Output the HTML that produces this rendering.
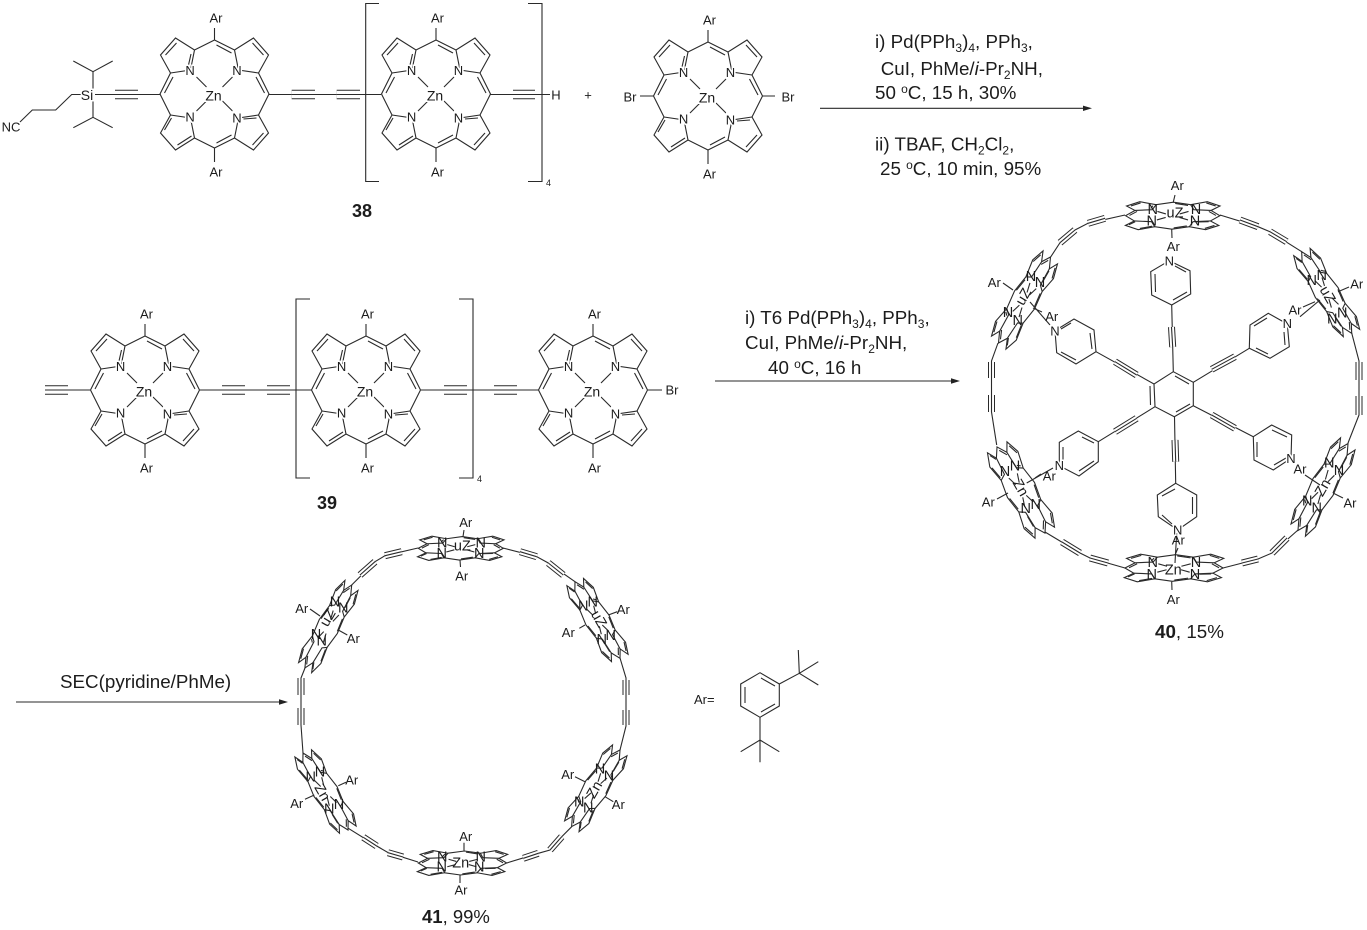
<!DOCTYPE html>
<html><head><meta charset="utf-8"><style>
html,body{margin:0;padding:0;background:#fff}
svg{display:block;fill:none;stroke:#2a2a2a;stroke-width:1.1;font-family:"Liberation Sans",sans-serif}
path{vector-effect:non-scaling-stroke}
text{fill:#1c1c1c;stroke:none}
.n{font-size:13px;text-anchor:middle;dominant-baseline:central}
.z{font-size:14.5px;text-anchor:middle;dominant-baseline:central}
.h{paint-order:stroke;stroke:#fff;stroke-width:3px}
.t{font-size:18.8px}
.b{font-weight:bold}
.s{font-size:12px}
</style></head><body>
<svg width="1367" height="930" viewBox="0 0 1367 930" xmlns="http://www.w3.org/2000/svg">
<defs>
<g id="P">
<path d="M-54.5 0L-44-21L-54-39L-39-56L-20-44L0-54L20-44L39-56L54-39L44-21L54.5 0L44 21L54 39L39 56L20 44L0 54L-20 44L-39 56L-54 39L-44 21Z"/>
<path d="M-44-21L-24-24L-20-44M44-21L24-24L20-44M-44 21L-24 24L-20 44M44 21L24 24L20 44"/>
<path d="M-23.5-40L-26-29M-41.5-17L-50-1M-49-39L-38-51M2-49L17-41M49-39L38-51M41.5-17L50-1M29 25L42 24M49 39L38 51M2 49L17 41M-43 24L-50 36M-37 51L-23 42"/>
<path d="M-18-17L-8-7M18-17L8-7M-18 17L-8 7M18 17L8 7"/>
</g>
<g id="L">
<use href="#P"/>
<path d="M0-54V-66M0 54V68"/>
<text class="n h" x="-24.5" y="-23.5">N</text><text class="n h" x="22.5" y="-23.5">N</text>
<text class="n h" x="-24.5" y="23">N</text><text class="n h" x="22.5" y="24">N</text>
<text class="n h" x="-1" y="1.5" style="font-size:14px">Zn</text>
<text class="n" x="1.5" y="-76">Ar</text><text class="n" x="1.5" y="78">Ar</text>
</g>
<g id="tL"><path d="M115 94.5H138M291.7 94.5H315M336.7 94.5H360M513 94.5H535M45 390H68M222 390H245M267 390H290M444 390H467M494 390H517"/></g>
<g id="tS"><path d="M1105 218.3L1088 223.3M1075 230L1060 242.7M1240 220L1258 226.7M1270 231.7L1286.7 241.7M1108 563L1090 558M1080 553L1062 542M1242 563L1258 559M1272 553L1287 538M991.5 362V378M991.5 395V412M1359 362V380M1359 396V415M1172.7 347L1171.5 327M1211.7 369.3L1235 356.7M1115 361.7L1136.7 375M1115 431.7L1136.7 418.3M1211.7 415L1235 428.3M1175 440L1175.7 461.7M401.7 551.7L385 555.7M375 561.7L360 575M520 551.7L536.7 556.7M548.3 563L563.3 575M301 678V695M301 708V725M626 680V695M626 710V725M403 857L388 852.7M376.7 846L363.3 837.3M561.7 836.7L550 850M538.3 853.3L523.3 858.3"/></g>
</defs>

<!-- large porphyrins -->
<path d="M95 94.5H160M269 94.5H381M490.5 94.5H550M45 390H90M200 390H312M421 390H539M648 390H662M653.5 96H640M762.5 96H775"/>
<use href="#tL" style="stroke:#2a2a2a;stroke-width:9.6"/><use href="#tL" style="stroke:#fff;stroke-width:7.6"/><use href="#tL" style="stroke:#2a2a2a;stroke-width:1.1"/>
<use href="#L" transform="translate(214.5 94)"/>
<use href="#L" transform="translate(436 94)"/>
<use href="#L" transform="translate(708 96)"/>
<use href="#L" transform="translate(145 390)"/>
<use href="#L" transform="translate(366 390)"/>
<use href="#L" transform="translate(593 390)"/>

<!-- 38 side chain -->
<path d="M81 94.5H71.7L55.7 110H32.3L20 122M93 89V71.7L73.3 61M93 71.7L112.7 61M93 101V117.3L73.3 127.7M93 117.3L112.7 127.7"/>
<text class="n h" x="87" y="95" style="font-size:14px">Si</text><text class="n" x="11" y="127">NC</text>
<text class="n h" x="556" y="95">H</text>
<text class="n" x="588" y="95">+</text>
<text class="n" x="630" y="97">Br</text><text class="n" x="788" y="97">Br</text>
<text class="n h" x="672" y="390">Br</text>

<!-- brackets -->
<path d="M379 3.5H365.7V181.5H379M528 3.5H542V181.5H528M310 299H296V478H310M459 299H473V478H459"/>
<text x="546" y="186" style="font-size:9px">4</text><text x="477" y="482" style="font-size:9px">4</text>

<!-- arrows -->
<path d="M820 108.3H1084M715 381H952M16 702H280"/>
<path d="M1092 108.3L1083 105.6V111Z M960 381L951 378.3V383.7Z M288 702L279 699.3V704.7Z" style="fill:#222;stroke:none"/>

<!-- reaction text -->
<text class="t" x="875" y="48">i) Pd(PPh<tspan class="s" dy="4">3</tspan><tspan dy="-4">)</tspan><tspan class="s" dy="4">4</tspan><tspan dy="-4">, PPh</tspan><tspan class="s" dy="4">3</tspan><tspan dy="-4">,</tspan></text>
<text class="t" x="880.7" y="75">CuI, PhMe/<tspan font-style="italic">i</tspan>-Pr<tspan class="s" dy="4">2</tspan><tspan dy="-4">NH,</tspan></text>
<text class="t" x="875" y="99">50 <tspan class="s" dy="-6">o</tspan><tspan dy="6">C, 15 h, 30%</tspan></text>
<text class="t" x="875" y="150.5">ii) TBAF, CH<tspan class="s" dy="4">2</tspan><tspan dy="-4">Cl</tspan><tspan class="s" dy="4">2</tspan><tspan dy="-4">,</tspan></text>
<text class="t" x="880" y="175">25 <tspan class="s" dy="-6">o</tspan><tspan dy="6">C, 10 min, 95%</tspan></text>
<text class="t" x="745" y="324">i) T6 Pd(PPh<tspan class="s" dy="4">3</tspan><tspan dy="-4">)</tspan><tspan class="s" dy="4">4</tspan><tspan dy="-4">, PPh</tspan><tspan class="s" dy="4">3</tspan><tspan dy="-4">,</tspan></text>
<text class="t" x="745" y="349">CuI, PhMe/<tspan font-style="italic">i</tspan>-Pr<tspan class="s" dy="4">2</tspan><tspan dy="-4">NH,</tspan></text>
<text class="t" x="768" y="374">40 <tspan class="s" dy="-6">o</tspan><tspan dy="6">C, 16 h</tspan></text>
<text class="t" x="60" y="688">SEC(pyridine/PhMe)</text>
<text class="t b" x="352" y="217" style="font-size:18px">38</text>
<text class="t b" x="317" y="509" style="font-size:18px">39</text>
<text class="t" x="1155" y="638"><tspan class="b">40</tspan>, 15%</text>
<text class="t" x="422" y="923" style="font-size:18.5px"><tspan class="b">41</tspan>, 99%</text>

<!-- ring 40 connections -->
<path d="M1125 215L1088 223.3L1075 230L1060 242.7L1050 258M1220 215L1258 226.7L1270 231.7L1301.7 251.7M1125 568L1090 558L1080 553L1045 532M1223 568L1258 559L1272 553L1298 530M998 343L991.5 361V412L996.7 445M1351.7 333L1359 361V415L1348 443"/>
<path d="M1173.3 371.7L1171.7 305M1193.3 382.3L1249.3 348.3M1154 384L1096 351.7M1155 406.7L1098.3 441.7M1193.3 405.7L1253.3 436.7M1174.5 416.7L1175.7 483.3"/>
<!-- ring 41 connections -->
<path d="M418 548L385 555.7L375 561.7L351.7 585M503 548L536.7 556.7L548.3 563L575 581.7M305 668L301 678V725L303 753M620 658L626 678V726L620 750M348.3 828.3L376.7 846L388.3 852.7L418 862M506.7 863L538.3 853.3L550 850L561.7 836.7L571.7 826.7"/>
<use href="#tS" style="stroke:#2a2a2a;stroke-width:7"/><use href="#tS" style="stroke:#fff;stroke-width:5"/><use href="#tS" style="stroke:#2a2a2a;stroke-width:1.1"/>

<!-- benzene -->
<path d="M1173.3 371.7L1193.3 382.3V405.7L1174.3 416.7L1155 406.7L1154 384ZM1175 376L1189 384M1150 386L1150.5 405M1176 412L1190 404"/>

<!-- pyridines -->
<path d="M1171.7 305L1190.7 294L1190 270.7L1169.3 260.7L1150.7 271.7L1151.7 295ZM1173 300L1187 292M1186 272L1175 266M1155 274L1155.5 292"/>
<path d="M1249.3 348.3L1270 358.3L1289.3 346.7L1287.3 324L1268.3 313.3L1250 325ZM1256 348L1268 354M1285 345L1284 332M1267 318L1254 326"/>
<path d="M1096 351.7L1094 330L1074 319L1055 330.7L1056.7 352.7L1076 364ZM1092 349L1090 333M1071 323L1061 329M1061 352L1076 360"/>
<path d="M1098.3 441.7V461.7L1079 476L1059.3 465.7V442.3L1078.3 431ZM1082 437L1094 443M1094 461L1079 471M1063 447V460"/>
<path d="M1253.3 436.7L1271.7 425L1291.7 435L1291 458.3L1273.3 470L1254 460ZM1272 430L1287 437M1286 458L1274 465M1257 442V457"/>
<path d="M1175.7 483.3L1196.7 495V516.7L1177.7 530L1158.3 516.7L1157.3 495ZM1192.5 497V514M1172 524L1162 515M1162 496L1175 489"/>

<!-- ring 40 porphyrins -->
<use href="#P" transform="matrix(.865 0 -.015 .25 1172.7 215.7)"/>
<use href="#P" transform="matrix(.477 -.789 .185 .167 1024.5 300)"/>
<use href="#P" transform="matrix(.459 .749 -.21 .093 1326.7 292.5)"/>
<use href="#P" transform="matrix(.44 .79 -.25 .14 1021 490)"/>
<use href="#P" transform="matrix(.459 -.798 .185 .157 1323 487)"/>
<use href="#P" transform="matrix(.9 0 -.03 .247 1174 568)"/>
<!-- ring 40 bonds to Ar / N -->
<path d="M1173.3 202L1175 195M1171.7 229L1172 238M1013 290L1003 283M1033 308L1042 312M1338 291.7L1349 287M1315 301.7L1303 307M1008 493L997 499M1035 478L1041 474M1333 493L1343 498M1171.7 581.7L1172 590M1175 555L1178 548M1050 325L1030 302M1300 316.7L1320 300M1053 468L1026.7 483M1305 475L1320 485M1176.7 533L1175 563"/>
<!-- ring 40 labels -->
<text class="z" x="1152.7" y="210">N</text><text class="z" x="1196" y="210">N</text><text class="z" x="1151.7" y="221.7">N</text><text class="z" x="1195" y="221.7">N</text><text class="z" x="1175" y="213.3">uZ</text>
<text class="n" x="1177.3" y="185.7">Ar</text><text class="n h" x="1173.3" y="246.7">Ar</text>
<text class="z" x="1031" y="277">N</text><text class="z" x="1040" y="283">N</text><text class="z" x="1008" y="313">N</text><text class="z" x="1017.7" y="321">N</text>
<text class="z" transform="translate(1024 297) rotate(-60)">uZ</text>
<text class="n" x="994.3" y="282.3">Ar</text><text class="n" x="1051.7" y="316.5">Ar</text>
<text class="z" x="1321.7" y="276">N</text><text class="z" x="1311.7" y="281">N</text><text class="z" x="1342.3" y="313.3">N</text><text class="z" x="1332.3" y="319.3">N</text>
<text class="z" transform="translate(1327 295) rotate(60)">uZ</text>
<text class="n" x="1356.7" y="284">Ar</text><text class="n" x="1295" y="310">Ar</text>
<text class="z" x="1015" y="466.7">N</text><text class="z" x="1005" y="472">N</text><text class="z" x="1035.7" y="505">N</text><text class="z" x="1025.7" y="509">N</text>
<text class="z" transform="translate(1020 488) rotate(60)">Zn</text>
<text class="n" x="988.3" y="502">Ar</text><text class="n" x="1049.3" y="476">Ar</text>
<text class="z" x="1329.3" y="463.3">N</text><text class="z" x="1339" y="471">N</text><text class="z" x="1307.3" y="501.7">N</text><text class="z" x="1316.7" y="508.3">N</text>
<text class="z" transform="translate(1323.3 488) rotate(-60)">Zn</text>
<text class="n" x="1300" y="469">Ar</text><text class="n" x="1350" y="503">Ar</text>
<text class="z" x="1152.7" y="563">N</text><text class="z" x="1196" y="563">N</text><text class="z" x="1151.7" y="575">N</text><text class="z" x="1195" y="575">N</text><text class="z" x="1173.3" y="570.7">Zn</text>
<text class="n" x="1178.3" y="540">Ar</text><text class="n" x="1173.3" y="599.3">Ar</text>
<text class="n h" x="1169.3" y="261">N</text><text class="n h" x="1287.3" y="323.5">N</text><text class="n h" x="1055" y="331">N</text><text class="n h" x="1059.3" y="465.7">N</text><text class="n h" x="1291" y="458.3">N</text><text class="n h" x="1177.7" y="530">N</text>

<!-- ring 41 porphyrins -->
<use href="#P" transform="matrix(.78 0 -.028 .217 460.8 548.3)"/>
<use href="#P" transform="matrix(.429 -.761 .167 .13 328.3 626.5)"/>
<use href="#P" transform="matrix(.413 .703 -.213 .093 597.5 620)"/>
<use href="#P" transform="matrix(.413 .706 -.213 .093 325.5 791.5)"/>
<use href="#P" transform="matrix(.444 -.703 .185 .139 595.8 788.3)"/>
<use href="#P" transform="matrix(.81 0 -.037 .222 462.5 863)"/>
<path d="M463 536.7L464 530M460 560L460.5 567M310 609L320 616M338.3 630L347.3 635M608.3 615L617.3 611.7M579.3 628.3L585 625M338.3 785.7L346 782.3M305 799.3L314.3 795M575 776.7L585 781.7M605 796.7L613.3 801.7M464 842.7V850.7M460 875V883"/>
<text class="z" x="442.3" y="543.3">N</text><text class="z" x="480.7" y="543.3">N</text><text class="z" x="441.7" y="554">N</text><text class="z" x="479.3" y="554">N</text><text class="z" x="462.3" y="546.7">uZ</text>
<text class="n" x="465.7" y="522.7">Ar</text><text class="n" x="461.7" y="576">Ar</text>
<text class="z" x="335" y="602.7">N</text><text class="z" x="343.3" y="608.3">N</text><text class="z" x="316" y="635">N</text><text class="z" x="321.7" y="641.7">N</text>
<text class="z" transform="translate(328.3 618.3) rotate(-60)">uZ</text>
<text class="n" x="301.7" y="608.3">Ar</text><text class="n" x="353.3" y="638.3">Ar</text>
<text class="z" x="583.3" y="606.7">N</text><text class="z" x="592.7" y="602.3">N</text><text class="z" x="601.7" y="640">N</text><text class="z" x="610.7" y="636">N</text>
<text class="z" transform="translate(598.3 619.3) rotate(60)">uZ</text>
<text class="n" x="623.3" y="609.3">Ar</text><text class="n" x="568.3" y="632.7">Ar</text>
<text class="z" x="320" y="772.7">N</text><text class="z" x="310.7" y="777.3">N</text><text class="z" x="339" y="805">N</text><text class="z" x="329.3" y="809.3">N</text>
<text class="z" transform="translate(321.7 792.7) rotate(60)">Zn</text>
<text class="n" x="351.7" y="780">Ar</text><text class="n" x="296.7" y="803.3">Ar</text>
<text class="z" x="600" y="769.3">N</text><text class="z" x="609" y="776.7">N</text><text class="z" x="579.3" y="802.7">N</text><text class="z" x="588.3" y="808.3">N</text>
<text class="z" transform="translate(595 790) rotate(-60)">Zn</text>
<text class="n" x="567.7" y="774.3">Ar</text><text class="n" x="618.3" y="804.3">Ar</text>
<text class="z" x="442.3" y="857.3">N</text><text class="z" x="480.7" y="857.3">N</text><text class="z" x="441.7" y="867.7">N</text><text class="z" x="479.3" y="867.7">N</text><text class="z" x="460.7" y="863.3">Zn</text>
<text class="n" x="465.7" y="836.7">Ar</text><text class="n" x="461" y="890">Ar</text>

<!-- Ar= group -->
<text x="694" y="704" style="font-size:13px">Ar=</text>
<path d="M760 672.7L779.3 684V706L760 717.3L740.7 706V684ZM761 678L775 686M775 704L761 712M745 687V703"/>
<path d="M779.3 684L799.3 673.3M798.3 650L799.3 673.3L818.3 661.7M799.3 673.3L818.3 685M760 717.3V762.3M740.7 751.7L760 740L779.3 751.7"/>
</svg>
</body></html>
